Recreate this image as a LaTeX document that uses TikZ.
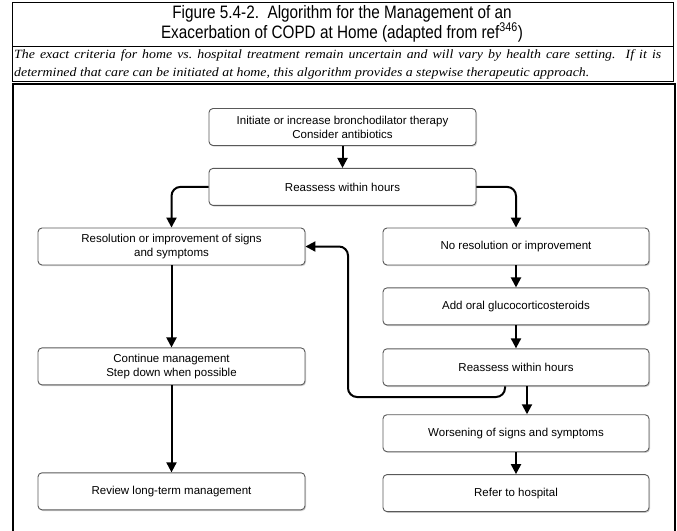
\documentclass[tikz,border=0pt]{standalone}
\usepackage{fontspec}
\setmainfont{Liberation Sans}
\newfontfamily\narrowfont[FakeStretch=0.85]{Liberation Sans}
\newfontfamily\timesfont[FakeStretch=1.1]{Liberation Serif}
\usetikzlibrary{positioning,arrows.meta,shadows}

\begin{document}
\begin{tikzpicture}[
			x=1pt, y=-1pt,
			node distance=22pt,
			box/.style = {draw=black!65, line width=0.9pt, rounded corners=4pt, fill=white,
				minimum width=267pt, minimum height=37pt, align=center,
				font=\fontsize{11.5}{14}\selectfont,
				drop shadow={shadow xshift=1pt, shadow yshift=-1.2pt, opacity=0.3, fill=black!60}},
			flow/.style = {line width=2pt, -{Triangle[length=10pt, width=10pt]}, rounded corners=9pt}
		]
		\useasboundingbox (0,0) rectangle (677,530);
		% Header.
		\draw[line width=0.9pt] (12,2) rectangle (673,81);
		\draw[line width=0.9pt] (12,46.5) -- (673,46.5);
		\node[font=\narrowfont\fontsize{18}{20}\selectfont, align=center] (title) at (342,23.5)
			{Figure 5.4-2.\ \ Algorithm for the Management of an\\Exacerbation of COPD at Home (adapted from ref\textsuperscript{346})};
		\node[font=\timesfont\itshape\fontsize{12.6}{18}\selectfont, align=left, anchor=west, inner sep=0pt] (note) at (14,64.5)
			{\makebox[647pt][s]{The exact criteria for home vs.\ hospital treatment remain uncertain and will vary by health care setting.\ \ If it is}\\
			determined that care can be initiated at home, this algorithm provides a stepwise therapeutic approach.};
		\draw[line width=2.6pt] (13,531) -- (13,84) -- (675,84) -- (675,531);
		% Top.
		\node[box] (init) at (342.5,127) {Initiate or increase bronchodilator therapy\\Consider antibiotics};
		\node[box, below=of init] (reass) {Reassess within hours};
		% Left column.
		\node[box] (resol) at (171.5,246.5) {Resolution or improvement of signs\\and symptoms};
		\node[box, below=82pt of resol] (cont) {Continue management\\Step down when possible};
		\node[box, below=87pt of cont] (review) {Review long-term management};
		% Right column.
		\node[box, minimum width=266pt] (nores) at (516,246.5) {No resolution or improvement};
		\node[box, minimum width=266pt, below=of nores] (oral) {Add oral glucocorticosteroids};
		\node[box, minimum width=266pt, below=23pt of oral] (reass2) {Reassess within hours};
		\node[box, minimum width=266pt, below=28pt of reass2] (worse) {Worsening of signs and symptoms};
		\node[box, minimum width=266pt, below=of worse] (refer) {Refer to hospital};
		\coordinate (back) at (348,397);

		\draw[flow] (init) to (reass);
		\draw[flow] (reass.west) -| (resol.north);
		\draw[flow] (reass.east) -| (nores.north);
		\draw[flow] (resol) to (cont);
		\draw[flow] (cont) to (review);
		\draw[flow] (nores) to (oral);
		\draw[flow] (oral) to (reass2);
		\draw[flow] ([xshift=11pt]reass2.south) to ([xshift=11pt]worse.north);
		\draw[flow] ([xshift=-11pt]reass2.south) |- (back) |- (resol.east);
		\draw[flow] (worse) to (refer);
	\end{tikzpicture}
\end{document}
